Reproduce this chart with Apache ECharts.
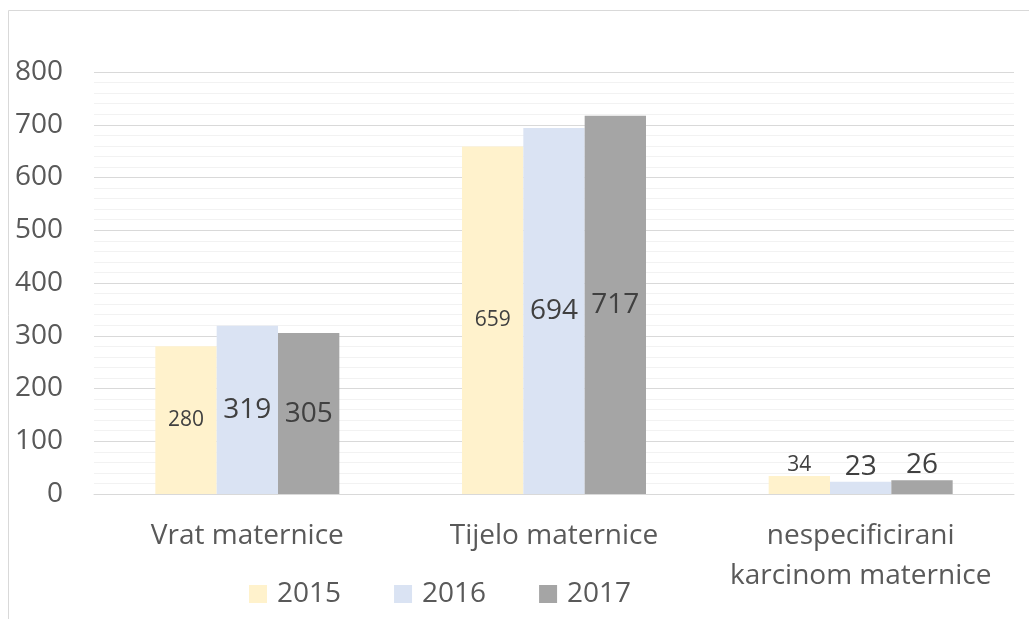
<!DOCTYPE html>
<html>
<head>
<meta charset="utf-8">
<script src="https://cdn.jsdelivr.net/npm/echarts@6/dist/echarts.min.js"></script>
<style>
  html, body { margin: 0; padding: 0; background: #fff; }
  #main { width: 1029px; height: 619px; }
</style>
</head>
<body>
<div id="main"></div>
<script>
// podaci
var categories = ['Vrat maternice', 'Tijelo maternice', 'nespecificirani\nkarcinom maternice'];
var years = ['2015', '2016', '2017'];
var values2015 = [280, 659, 34];
var values2016 = [319, 694, 23];
var values2017 = [305, 717, 26];
var yTicks = { min: 0, max: 800, interval: 100 };

var colors = ['#FFF2CC', '#DAE3F3', '#A5A5A5'];
var font = '"Open Sans", "Liberation Sans", sans-serif';

// mali stupci imaju natpis iznad
function withLabels(arr) {
    return arr.map(function (v) {
        if (v < 100) {
            return { value: v, label: { position: 'top', distance: 1 } };
        }
        return v;
    });
}

function makeSeries(name, data, color, labelSize) {
    return {
        name: name,
        type: 'bar',
        barGap: '0%',
        barCategoryGap: '40%',
        itemStyle: { color: color },
        label: {
            show: true,
            position: 'inside',
            color: '#404040',
            fontFamily: font,
            fontSize: labelSize
        },
        data: withLabels(data)
    };
}

var chart = echarts.init(document.getElementById('main'));
chart.setOption({
    animation: false,
    graphic: [{
        type: 'rect',
        shape: { x: 8.5, y: 10.5, width: 1040, height: 640 },
        style: { fill: 'none', stroke: '#d9d9d9', lineWidth: 1 },
        silent: true
    }],
    grid: { left: 94, right: 15, top: 72, bottom: 125 },
    legend: {
        data: years,
        left: 244,
        top: 575,
        itemWidth: 18,
        itemHeight: 18,
        itemGap: 53,
        icon: 'rect',
        textStyle: { color: '#595959', fontFamily: font, fontSize: 28, padding: [0, 0, 0, 5] }
    },
    xAxis: {
        type: 'category',
        data: categories,
        axisLine: { show: true, lineStyle: { color: '#d9d9d9', width: 1 } },
        axisTick: { show: false },
        axisLabel: {
            color: '#595959',
            fontFamily: font,
            fontSize: 28,
            lineHeight: 40,
            margin: 22,
            interval: 0
        }
    },
    yAxis: {
        type: 'value',
        min: yTicks.min,
        max: yTicks.max,
        interval: yTicks.interval,
        axisLine: { show: false },
        axisTick: { show: false },
        axisLabel: { color: '#595959', fontFamily: font, fontSize: 28, margin: 31 },
        splitLine: { lineStyle: { color: '#d9d9d9', width: 1 } },
        minorTick: { show: false, splitNumber: 5 },
        minorSplitLine: { show: true, lineStyle: { color: '#f2f2f2', width: 1 } }
    },
    series: [
        makeSeries(years[0], values2015, colors[0], 21),
        makeSeries(years[1], values2016, colors[1], 28),
        makeSeries(years[2], values2017, colors[2], 28)
    ]
});
</script>
</body>
</html>
